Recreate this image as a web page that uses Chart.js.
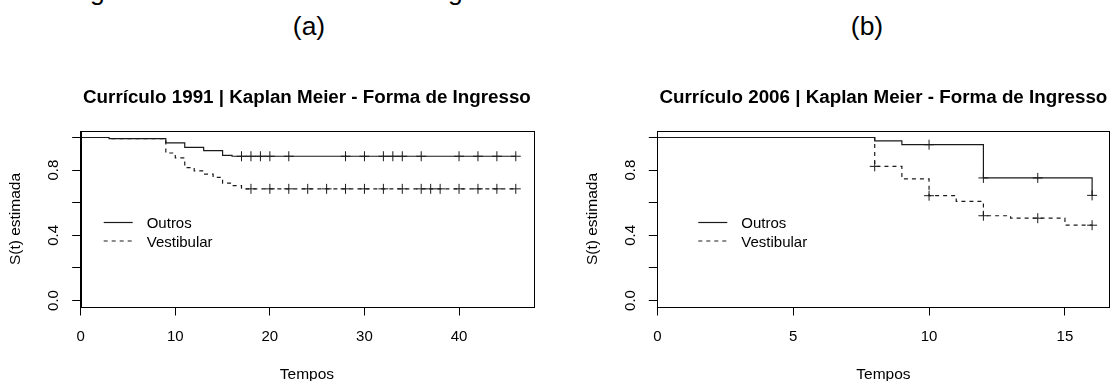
<!DOCTYPE html>
<html>
<head>
<meta charset="utf-8">
<script src="https://cdn.jsdelivr.net/npm/chart.js@4/dist/chart.umd.min.js"></script>
<style>
    html, body { margin: 0; padding: 0; }
    body { width: 1110px; height: 381px; overflow: hidden; background: #fff; position: relative;
           font-family: "Liberation Sans", Arial, sans-serif; }
    .cap { position: absolute; font-size: 26.5px; line-height: 26.5px; color: #000; white-space: nowrap; }
    canvas { position: absolute; top: 0; }
</style>
</head>
<body>
<div class="cap" style="left:40px; top:-22px">categorias da variável Forma de Ingresso nos currículos.</div>
<div class="cap" style="left:309px; top:13px; transform:translateX(-50%)">(a)</div>
<div class="cap" style="left:867px; top:13px; transform:translateX(-50%)">(b)</div>
<canvas id="km1991" width="614" height="381" style="left:0"></canvas>
<canvas id="km2006" width="647" height="381" style="left:560px"></canvas>
<script>
// curriculo 1991
var tempos91Outros = [0, 3, 9, 11, 13, 15, 16, 46];
var surv91Outros = [1, 0.993, 0.967, 0.94, 0.92, 0.89, 0.885, 0.885];
var tempos91Vest = [0, 3, 9, 10, 11, 12, 13, 14, 15, 16, 17, 46];
var surv91Vest = [1, 0.993, 0.905, 0.875, 0.815, 0.795, 0.775, 0.755, 0.72, 0.705, 0.685, 0.685];
var cens91Outros = [17, 18, 19, 20, 22, 28, 30, 32, 33, 34, 36, 40, 42, 44, 46];
var cens91OutrosS = [0.885, 0.885, 0.885, 0.885, 0.885, 0.885, 0.885, 0.885, 0.885, 0.885, 0.885, 0.885, 0.885, 0.885, 0.885];
var cens91Vest = [18, 20, 22, 24, 26, 28, 30, 32, 34, 36, 37, 38, 40, 42, 44, 46];
var cens91VestS = [0.685, 0.685, 0.685, 0.685, 0.685, 0.685, 0.685, 0.685, 0.685, 0.685, 0.685, 0.685, 0.685, 0.685, 0.685, 0.685];

// curriculo 2006
var tempos06Outros = [0, 8, 9, 12, 16];
var surv06Outros = [1, 0.98, 0.956, 0.752, 0.645];
var tempos06Vest = [0, 8, 9, 10, 11, 12, 13, 15, 16];
var surv06Vest = [1, 0.823, 0.746, 0.643, 0.608, 0.52, 0.505, 0.462, 0.462];
var cens06Outros = [10, 12, 14, 16];
var cens06OutrosS = [0.956, 0.752, 0.752, 0.645];
var cens06Vest = [8, 10, 12, 14, 16];
var cens06VestS = [0.823, 0.643, 0.52, 0.505, 0.462];

var yTickValues = [0, 0.4, 0.8];
var yTickLabels = ["0.0", "0.4", "0.8"];
var legendLabels = ["Outros", "Vestibular"];

var FONT = '"Liberation Sans", Arial, sans-serif';
var INK = '#1a1a1a';

function pts(xs, ys) {
    return xs.map((x, i) => ({ x: x, y: ys[i] }));
}

// draws the R-style bits: box, rotated y labels, titles, legend
const rPlot = {
    id: 'rPlot',
    afterDraw(chart, args, opts) {
        const ctx = chart.ctx;
        const a = chart.chartArea;
        const ys = chart.scales.y;
        ctx.save();

        ctx.strokeStyle = '#000';
        ctx.lineWidth = 1;
        ctx.strokeRect(Math.round(a.left) + 0.5, Math.round(a.top) + 0.5,
            Math.round(a.right - a.left), Math.round(a.bottom - a.top));

        ctx.fillStyle = '#000';
        ctx.font = '15px ' + FONT;
        ctx.textAlign = 'center';
        ctx.textBaseline = 'alphabetic';
        yTickValues.forEach((v, i) => {
            ctx.save();
            ctx.translate(a.left - 22.5, ys.getPixelForValue(v));
            ctx.rotate(-Math.PI / 2);
            ctx.fillText(yTickLabels[i], 0, 0);
            ctx.restore();
        });

        ctx.font = '15.5px ' + FONT;
        ctx.save();
        ctx.translate(a.left - 65, (a.top + a.bottom) / 2);
        ctx.rotate(-Math.PI / 2);
        ctx.textBaseline = 'middle';
        ctx.fillText('S(t) estimada', 0, 0);
        ctx.restore();
        ctx.fillText('Tempos', (a.left + a.right) / 2, 379);

        ctx.font = 'bold 18.8px ' + FONT;
        ctx.fillText(opts.title, (a.left + a.right) / 2, 102.5);

        // legend
        const lx = a.left + opts.legendDx;
        ctx.strokeStyle = INK;
        ctx.lineWidth = 1.2;
        [222.5, 241].forEach((ly, i) => {
            ctx.setLineDash(i == 0 ? [] : [4, 4]);
            ctx.beginPath();
            ctx.moveTo(lx, ly);
            ctx.lineTo(lx + 29, ly);
            ctx.stroke();
        });
        ctx.setLineDash([]);
        ctx.font = '15px ' + FONT;
        ctx.textAlign = 'left';
        ctx.fillText(legendLabels[0], lx + 43, 228);
        ctx.fillText(legendLabels[1], lx + 43, 246.5);

        ctx.restore();
    }
};

function kmChart(id, o) {
    const el = document.getElementById(id);
    const curve = (data, dash) => ({
        data: data, showLine: true, stepped: true, borderColor: INK, borderWidth: 1.2,
        borderDash: dash, pointRadius: 0, fill: false
    });
    const marks = (data) => ({
        data: data, showLine: false, pointStyle: 'cross', pointRadius: 5,
        borderColor: INK, borderWidth: 1, backgroundColor: INK
    });
    return new Chart(el, {
        type: 'scatter',
        data: {
            datasets: [
                curve(o.outros, []),
                curve(o.vest, [4, 4]),
                marks(o.censOutros),
                marks(o.censVest)
            ]
        },
        options: {
            responsive: false,
            animation: false,
            devicePixelRatio: 1,
            events: [],
            layout: { padding: { left: 0, top: 131, right: el.width - o.boxRight, bottom: 0 } },
            plugins: {
                legend: { display: false },
                tooltip: { enabled: false },
                rPlot: { title: o.title, legendDx: o.legendDx }
            },
            scales: {
                x: {
                    type: 'linear',
                    min: 0,
                    max: o.xMax * 1.04,
                    grid: { drawOnChartArea: false, drawTicks: true, tickLength: 8.5, color: '#000' },
                    border: { display: true, color: '#000' },
                    ticks: {
                        stepSize: o.xStep, includeBounds: false, maxRotation: 0, autoSkip: false,
                        color: '#000', padding: 12.5, font: { family: FONT, size: 15 }
                    },
                    afterFit: (s) => { s.height = 74; }
                },
                y: {
                    type: 'linear',
                    min: -0.04,
                    max: 1.04,
                    grid: { drawOnChartArea: false, drawTicks: true, tickLength: 8.5, color: '#000' },
                    border: { display: true, color: '#000' },
                    ticks: { stepSize: 0.2, includeBounds: false, display: false },
                    afterFit: (s) => { s.width = o.boxLeft; }
                }
            }
        },
        plugins: [rPlot]
    });
}

kmChart('km1991', {
    title: 'Currículo 1991 | Kaplan Meier - Forma de Ingresso',
    outros: pts(tempos91Outros, surv91Outros),
    vest: pts(tempos91Vest, surv91Vest),
    censOutros: pts(cens91Outros, cens91OutrosS),
    censVest: pts(cens91Vest, cens91VestS),
    xMax: 46, xStep: 10,
    boxLeft: 80.7, boxRight: 533.2, legendDx: 23
});

kmChart('km2006', {
    title: 'Currículo 2006 | Kaplan Meier - Forma de Ingresso',
    outros: pts(tempos06Outros, surv06Outros),
    vest: pts(tempos06Vest, surv06Vest),
    censOutros: pts(cens06Outros, cens06OutrosS),
    censVest: pts(cens06Vest, cens06VestS),
    xMax: 16, xStep: 5,
    boxLeft: 97.3, boxRight: 549.5, legendDx: 41
});
</script>
</body>
</html>
